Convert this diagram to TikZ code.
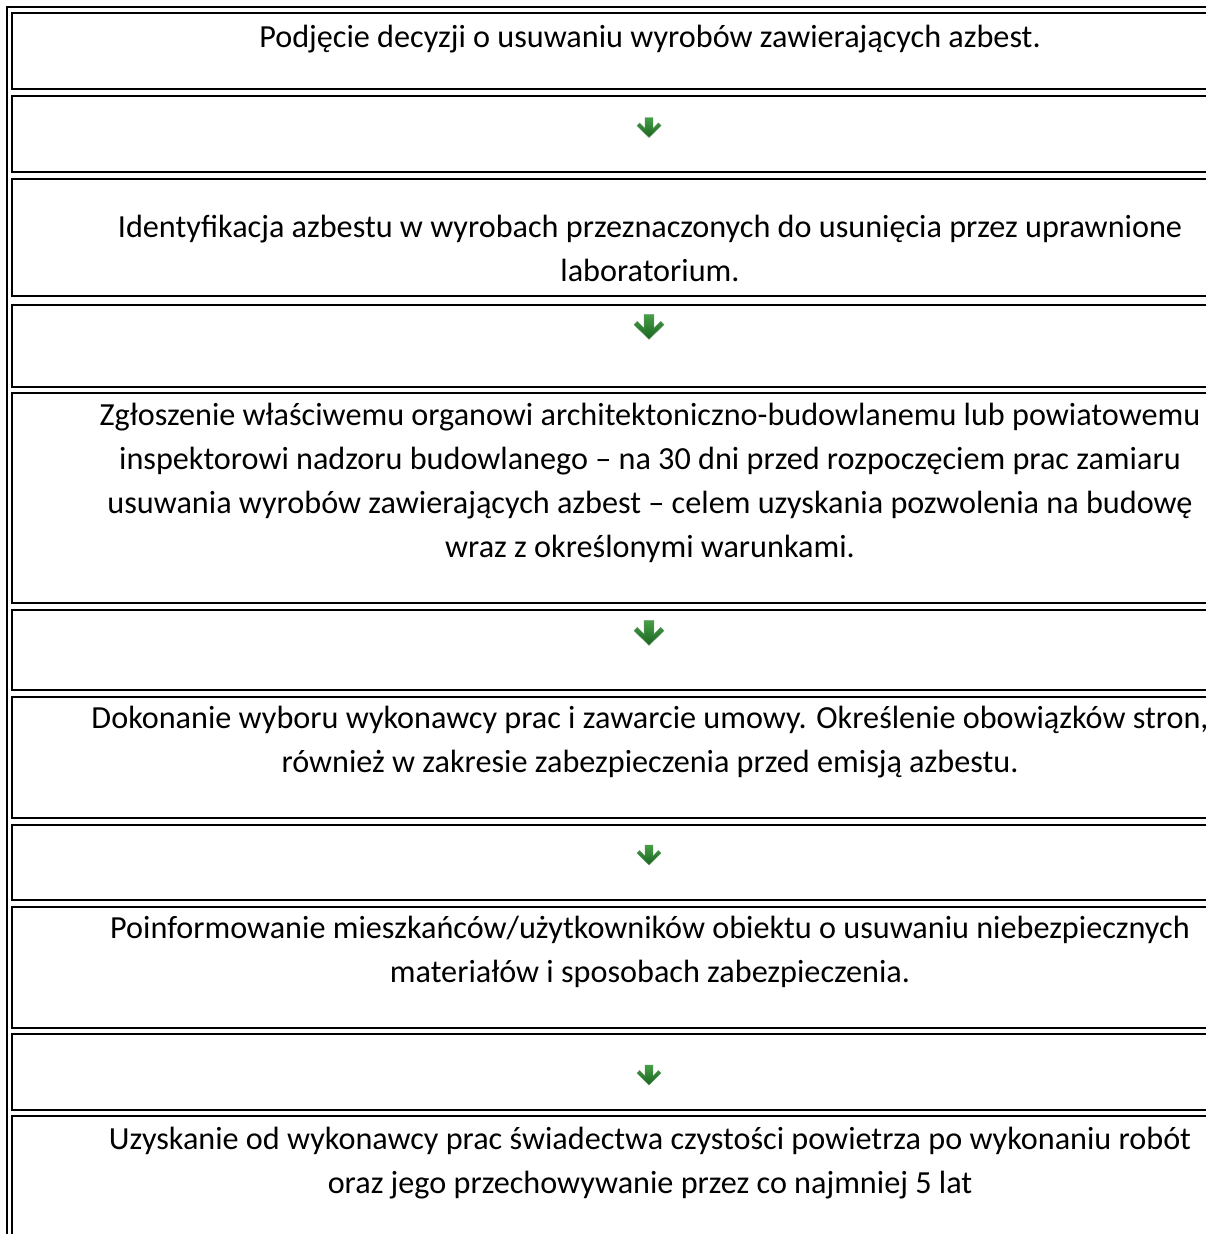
\documentclass[tikz,border=0pt]{standalone}
\usepackage{fontspec}
\setmainfont{Carlito}
\definecolor{arrowtop}{HTML}{45A045}
\definecolor{arrowbot}{HTML}{1B6420}
\begin{document}
\begin{tikzpicture}[x=1pt,y=1pt,
  frame/.style={draw=black,line width=2.2pt},
  cell/.style={draw=black,line width=2.2pt,anchor=north west,inner sep=0pt,outer sep=0pt,minimum width=1320pt},
  celltext/.style={anchor=base,align=center,inner sep=0pt,font=\fontsize{32.2}{44}\selectfont,text=black},
  greenarrow/.pic={
    \shade[top color=arrowtop,bottom color=arrowbot,draw=arrowbot!70,line width=0.4pt]
      (-3.8,9.5) -- (3.8,9.5) -- (3.8,-1) -- (9,4.3) -- (11.5,1.8) -- (0,-9.5)
      -- (-11.5,1.8) -- (-9,4.3) -- (-3.8,-1) -- cycle;
  }
]
\useasboundingbox (0,0) rectangle (1206,-1234);
\clip (0,0) rectangle (1206,-1234);
\fill[white] (0,0) rectangle (1206,-1234);
\draw[frame] (7.3,-7.3) rectangle (1400,-1400);
% cells
\node[cell,minimum height=76pt]    (c1)  at (12.3,-13.3) {};
\node[cell,minimum height=76.3pt]  (c2)  at (12.3,-95.7) {};
\node[cell,minimum height=117.3pt] (c3)  at (12.3,-178.7) {};
\node[cell,minimum height=82pt]    (c4)  at (12.3,-304.7) {};
\node[cell,minimum height=210.6pt] (c5)  at (12.3,-392.7) {};
\node[cell,minimum height=80pt]    (c6)  at (12.3,-610) {};
\node[cell,minimum height=121.6pt] (c7)  at (12.3,-696.7) {};
\node[cell,minimum height=75pt]    (c8)  at (12.3,-825) {};
\node[cell,minimum height=121.6pt] (c9)  at (12.3,-906.7) {};
\node[cell,minimum height=76pt]    (c10) at (12.3,-1034) {};
\node[cell,minimum height=300pt]   (c11) at (12.3,-1116) {};
% texts (anchor = baseline of the last line)
\node[celltext] (t1) at (650,-47.5) {Podjęcie decyzji o usuwaniu wyrobów zawierających azbest.};
\node[celltext] (t3) at (650,-281) {Identyfikacja azbestu w wyrobach przeznaczonych do usunięcia przez uprawnione\\laboratorium.};
\node[celltext] (t5) at (650,-557) {Zgłoszenie właściwemu organowi architektoniczno-budowlanemu lub powiatowemu\\inspektorowi nadzoru budowlanego – na 30 dni przed rozpoczęciem prac zamiaru\\usuwania wyrobów zawierających azbest – celem uzyskania pozwolenia na budowę\\wraz z określonymi warunkami.};
\node[celltext] (t7) at (650,-772) {Dokonanie wyboru wykonawcy prac i zawarcie umowy. Określenie obowiązków stron,\\również w zakresie zabezpieczenia przed emisją azbestu.};
\node[celltext] (t9) at (650,-982) {Poinformowanie mieszkańców/użytkowników obiektu o usuwaniu niebezpiecznych\\materiałów i sposobach zabezpieczenia.};
\node[celltext] (t11) at (650,-1193) {Uzyskanie od wykonawcy prac świadectwa czystości powietrza po wykonaniu robót\\oraz jego przechowywanie przez co najmniej 5 lat};
% arrows
\pic[scale=1.05] at (649,-127.5) {greenarrow};
\pic[scale=1.3] at (649,-327) {greenarrow};
\pic[scale=1.3] at (649,-633) {greenarrow};
\pic[scale=1.05] at (649,-855) {greenarrow};
\pic[scale=1.05] at (649,-1075) {greenarrow};
\end{tikzpicture}
\end{document}
